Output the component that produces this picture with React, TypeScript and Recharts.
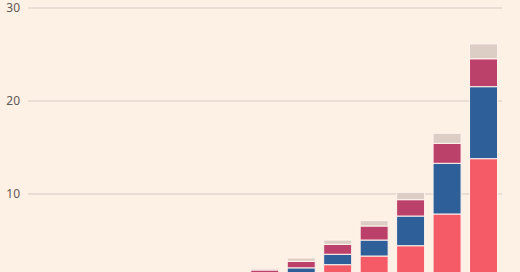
import React from 'react';
import { BarChart, Bar, XAxis, YAxis, CartesianGrid } from 'recharts';

const categories = ['2012', '2013', '2014', '2015', '2016', '2017', '2018', '2019', '2020', '2021', '2022', '2023', '2024'];
const seriesA = [0.05, 0.08, 0.12, 0.2, 0.35, 0.55, 0.9, 1.42, 2.4, 3.33, 4.44, 7.85, 13.8];
const seriesB = [0.02, 0.04, 0.06, 0.1, 0.17, 0.28, 0.45, 0.64, 1.12, 1.72, 3.19, 5.45, 7.74];
const seriesC = [0.03, 0.04, 0.07, 0.1, 0.18, 0.28, 0.48, 0.7, 1.07, 1.51, 1.76, 2.15, 3.0];
const seriesD = [0.01, 0.02, 0.03, 0.05, 0.08, 0.12, 0.18, 0.36, 0.46, 0.57, 0.79, 1.08, 1.6];
const yTicks = [0, 10, 20, 30];

const data = categories.map((c, i) => ({
  cat: c,
  a: seriesA[i],
  b: seriesB[i],
  c: seriesC[i],
  d: seriesD[i],
}));

export default function App() {
  return (
    <div
      style={{
        position: 'fixed',
        top: 0,
        left: 0,
        width: 520,
        height: 272,
        overflow: 'hidden',
        background: '#fdf0e5',
      }}
    >
      <BarChart
        width={520}
        height={292}
        data={data}
        margin={{ top: 8, right: 18, bottom: 5, left: 0 }}
      >
        <CartesianGrid vertical={false} stroke="#d5ccc4" strokeWidth={1} />
        <XAxis dataKey="cat" hide />
        <YAxis
          width={28}
          domain={[0, 30]}
          ticks={yTicks}
          axisLine={false}
          tickLine={false}
          tickSize={0}
          tickMargin={8}
          tick={{ fill: '#5f5955', fontSize: 12, fontFamily: 'Noto Sans' }}
        />
        <Bar dataKey="a" stackId="s" fill="#f45b66" stroke="#fff4ee" strokeWidth={1} barSize={28} isAnimationActive={false} />
        <Bar dataKey="b" stackId="s" fill="#2f5f98" stroke="#fff4ee" strokeWidth={1} barSize={28} isAnimationActive={false} />
        <Bar dataKey="c" stackId="s" fill="#bb416b" stroke="#fff4ee" strokeWidth={1} barSize={28} isAnimationActive={false} />
        <Bar dataKey="d" stackId="s" fill="#dccec5" stroke="#fff4ee" strokeWidth={1} barSize={28} isAnimationActive={false} />
      </BarChart>
    </div>
  );
}
